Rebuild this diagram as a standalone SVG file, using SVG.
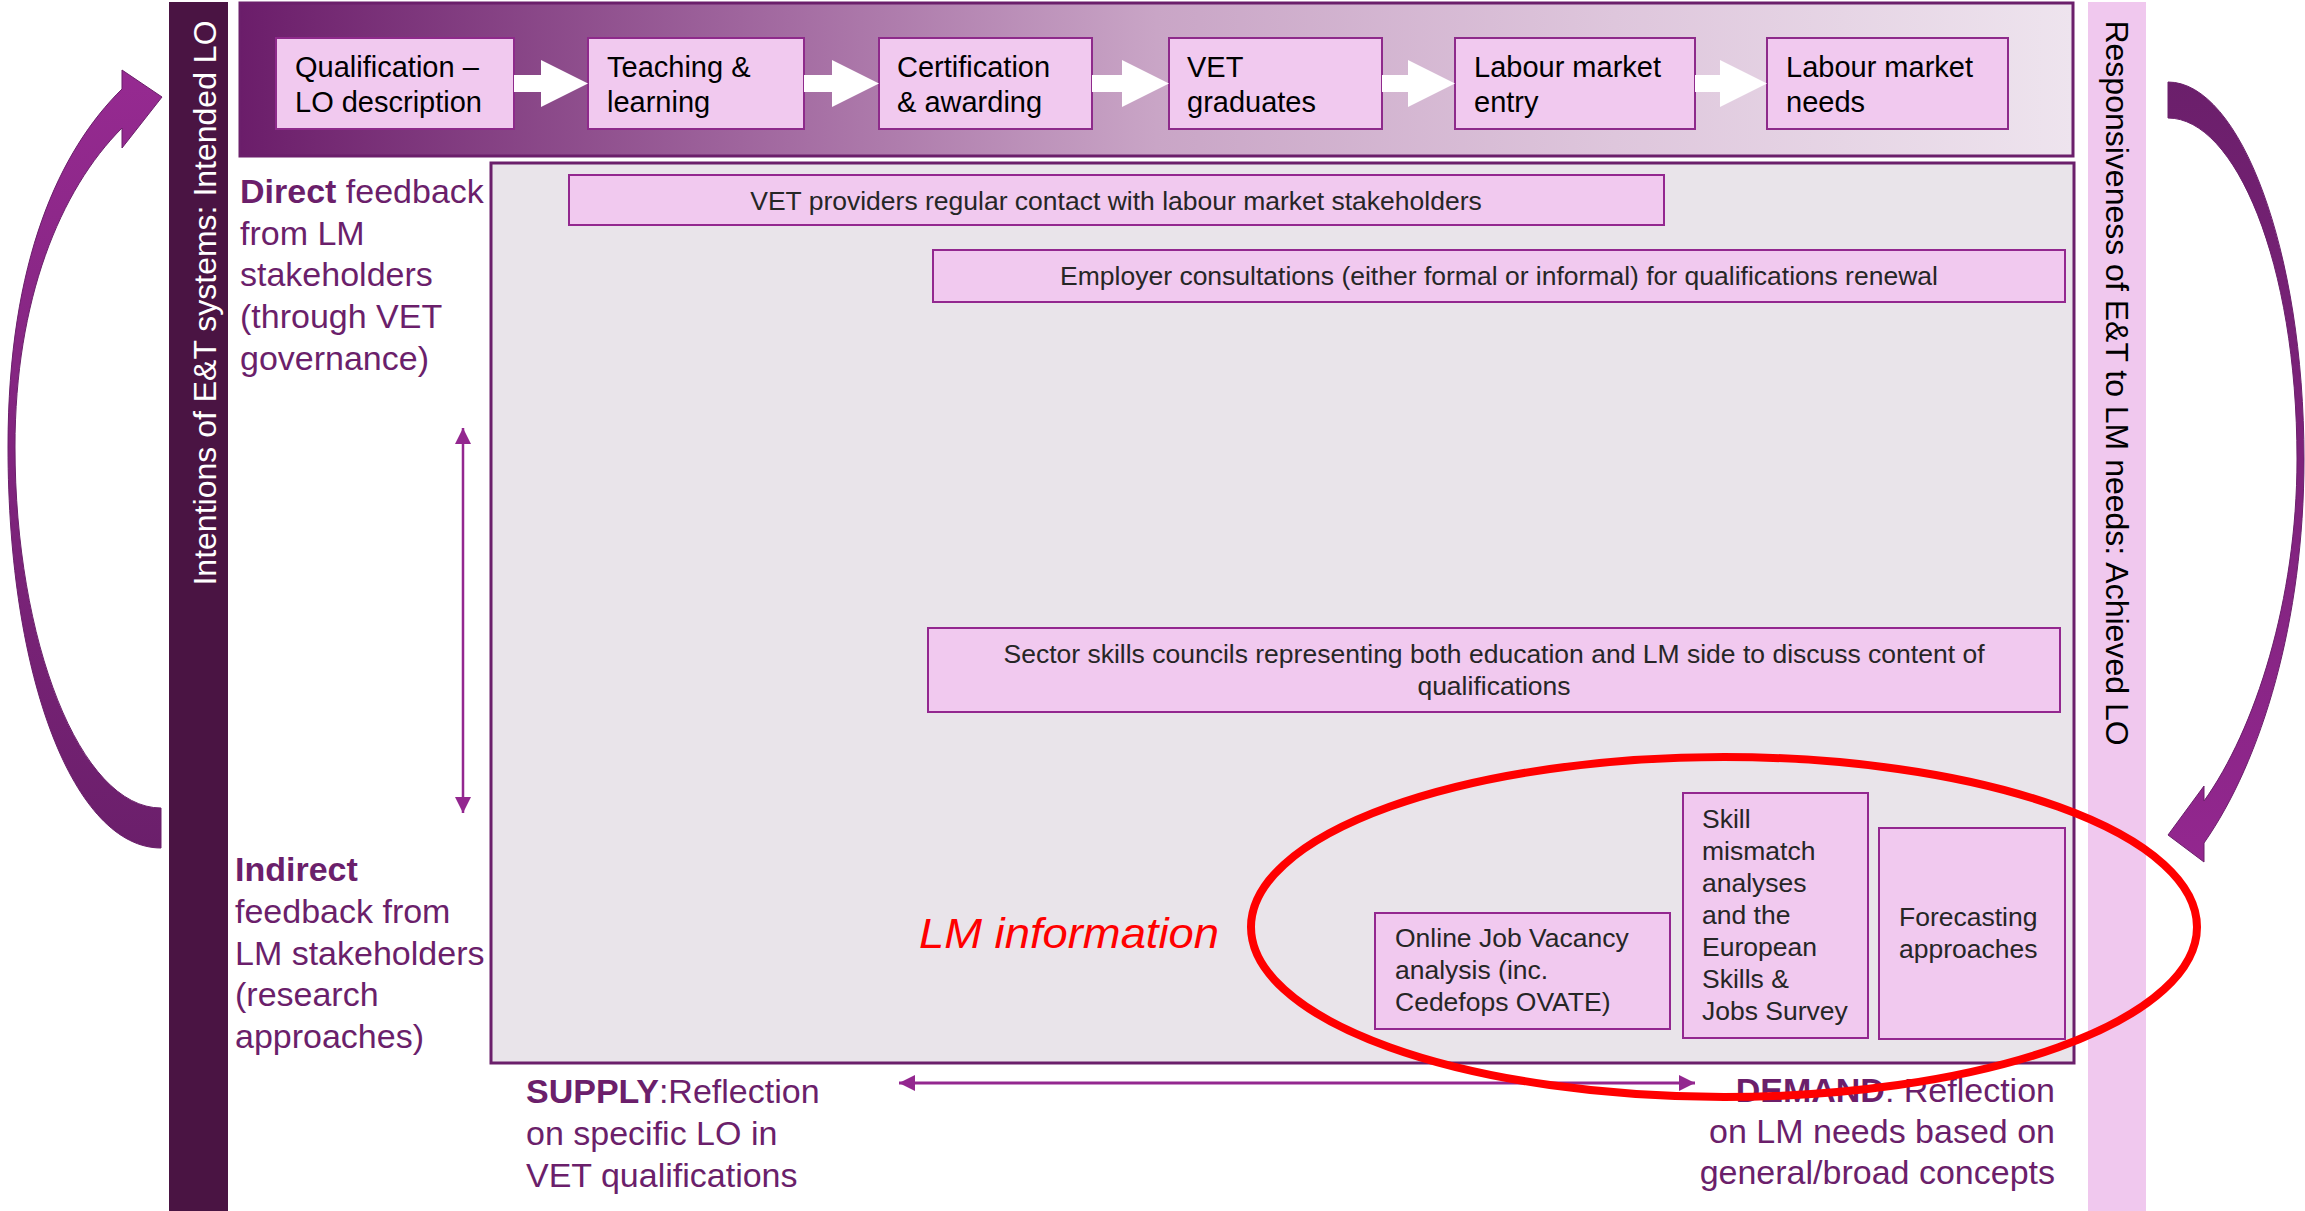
<svg xmlns="http://www.w3.org/2000/svg" width="2305" height="1211" viewBox="0 0 2305 1211">
  <defs>
    <style>
      text { font-family: "Liberation Sans", Arial, sans-serif; }
      .step { fill: #f1c9ef; stroke: #8e2a8b; stroke-width: 2; }
      .item { fill: #f1c9ef; stroke: #93278f; stroke-width: 2; }
      .stepTxt { font-size: 29px; fill: #000; }
      .itemTxt { font-size: 26.5px; fill: #262626; }
      .side { font-size: 34px; fill: #6b1f6b; }
      .b { font-weight: bold; }
      .blk { fill: #ffffff; }
      .dbl { stroke: #93278f; fill: none; }
    </style>
    <linearGradient id="bandGrad" x1="0" y1="0" x2="1" y2="0">
      <stop offset="0" stop-color="#6b1d6a"/>
      <stop offset="0.3" stop-color="#a46ca2"/>
      <stop offset="0.5" stop-color="#c9a5c6"/>
      <stop offset="0.75" stop-color="#dec6dc"/>
      <stop offset="1" stop-color="#eee4ee"/>
    </linearGradient>
    <linearGradient id="leftArc" x1="0" y1="0" x2="0" y2="1">
      <stop offset="0" stop-color="#962a91"/>
      <stop offset="1" stop-color="#6b1f6b"/>
    </linearGradient>
    <linearGradient id="rightArc" x1="0" y1="0" x2="0" y2="1">
      <stop offset="0" stop-color="#6b1f6b"/>
      <stop offset="1" stop-color="#93278f"/>
    </linearGradient>
    <marker id="tri" viewBox="0 0 10 10" refX="10" refY="5" markerWidth="16" markerHeight="16" markerUnits="userSpaceOnUse" orient="auto-start-reverse">
      <path d="M0,0 L10,5 L0,10 z" fill="#93278f"/>
    </marker>
  </defs>

  <rect width="2305" height="1211" fill="#ffffff"/>

  <!-- side bars -->
  <g id="intended-bar">
    <rect x="169" y="2" width="59" height="1209" fill="#4a1443"/>
    <text transform="translate(216,303) rotate(-90)" text-anchor="middle" font-size="32" fill="#ffffff">Intentions of E&amp;T systems: Intended LO</text>
  </g>
  <g id="achieved-bar">
    <rect x="2088" y="2" width="58" height="1209" fill="#f0c8ee"/>
    <text transform="translate(2106,383) rotate(90)" text-anchor="middle" font-size="32" fill="#000">Responsiveness of E&amp;T to LM needs: Achieved LO</text>
  </g>

  <!-- process band -->
  <g id="process-band">
    <rect x="240" y="3" width="1833" height="153" fill="url(#bandGrad)" stroke="#6b1f6b" stroke-width="3"/>
  </g>

  <g id="step-qualification">
    <rect class="step" x="276" y="38" width="238" height="91"/>
    <text class="stepTxt" x="295" y="77">Qualification –</text>
    <text class="stepTxt" x="295" y="112">LO description</text>
  </g>
  <g id="step-teaching">
    <rect class="step" x="588" y="38" width="216" height="91"/>
    <text class="stepTxt" x="607" y="77">Teaching &amp;</text>
    <text class="stepTxt" x="607" y="112">learning</text>
  </g>
  <g id="step-certification">
    <rect class="step" x="879" y="38" width="213" height="91"/>
    <text class="stepTxt" x="897" y="77">Certification</text>
    <text class="stepTxt" x="897" y="112">&amp; awarding</text>
  </g>
  <g id="step-graduates">
    <rect class="step" x="1169" y="38" width="213" height="91"/>
    <text class="stepTxt" x="1187" y="77">VET</text>
    <text class="stepTxt" x="1187" y="112">graduates</text>
  </g>
  <g id="step-entry">
    <rect class="step" x="1455" y="38" width="240" height="91"/>
    <text class="stepTxt" x="1474" y="77">Labour market</text>
    <text class="stepTxt" x="1474" y="112">entry</text>
  </g>
  <g id="step-needs">
    <rect class="step" x="1767" y="38" width="241" height="91"/>
    <text class="stepTxt" x="1786" y="77">Labour market</text>
    <text class="stepTxt" x="1786" y="112">needs</text>
  </g>

  <!-- feedback area -->
  <g id="feedback-area">
    <rect x="491" y="163" width="1583" height="900" fill="#e9e4ea" stroke="#6b1f6b" stroke-width="3"/>
  </g>

  <g id="vet-providers">
    <rect class="item" x="569" y="175" width="1095" height="50"/>
    <text class="itemTxt" x="1116" y="210" text-anchor="middle">VET providers regular contact with labour market stakeholders</text>
  </g>
  <g id="employer-consultations">
    <rect class="item" x="933" y="250" width="1132" height="52"/>
    <text class="itemTxt" x="1499" y="285" text-anchor="middle">Employer consultations (either formal or informal) for qualifications renewal</text>
  </g>
  <g id="sector-councils">
    <rect class="item" x="928" y="628" width="1132" height="84"/>
    <text class="itemTxt" x="1494" y="663" text-anchor="middle">Sector skills councils representing both education and LM side to discuss content of</text>
    <text class="itemTxt" x="1494" y="695" text-anchor="middle">qualifications</text>
  </g>
  <g id="online-vacancy">
    <rect class="item" x="1375" y="913" width="295" height="116"/>
    <text class="itemTxt" x="1395" y="947">Online Job Vacancy</text>
    <text class="itemTxt" x="1395" y="979">analysis (inc.</text>
    <text class="itemTxt" x="1395" y="1011">Cedefops OVATE)</text>
  </g>
  <g id="skill-mismatch">
    <rect class="item" x="1683" y="793" width="185" height="245"/>
    <text class="itemTxt" x="1702" y="828">Skill</text>
    <text class="itemTxt" x="1702" y="860">mismatch</text>
    <text class="itemTxt" x="1702" y="892">analyses</text>
    <text class="itemTxt" x="1702" y="924">and the</text>
    <text class="itemTxt" x="1702" y="956">European</text>
    <text class="itemTxt" x="1702" y="988">Skills &amp;</text>
    <text class="itemTxt" x="1702" y="1020">Jobs Survey</text>
  </g>
  <g id="forecasting">
    <rect class="item" x="1879" y="828" width="186" height="211"/>
    <text class="itemTxt" x="1899" y="926">Forecasting</text>
    <text class="itemTxt" x="1899" y="958">approaches</text>
  </g>

  <!-- side labels -->
  <g id="direct-label">
    <text class="side" x="240" y="203"><tspan class="b">Direct</tspan> feedback</text>
    <text class="side" x="240" y="245">from LM</text>
    <text class="side" x="240" y="286">stakeholders</text>
    <text class="side" x="240" y="328">(through VET</text>
    <text class="side" x="240" y="370">governance)</text>
  </g>
  <g id="indirect-label">
    <text class="side b" x="235" y="881">Indirect</text>
    <text class="side" x="235" y="923">feedback from</text>
    <text class="side" x="235" y="965">LM stakeholders</text>
    <text class="side" x="235" y="1006">(research</text>
    <text class="side" x="235" y="1048">approaches)</text>
  </g>
  <g id="supply-label">
    <text class="side" x="526" y="1103"><tspan class="b">SUPPLY</tspan>:Reflection</text>
    <text class="side" x="526" y="1145">on specific LO in</text>
    <text class="side" x="526" y="1187">VET qualifications</text>
  </g>
  <g id="demand-label">
    <text class="side" x="2055" y="1102" text-anchor="end"><tspan class="b">DEMAND</tspan>: Reflection</text>
    <text class="side" x="2055" y="1143" text-anchor="end">on LM needs based on</text>
    <text class="side" x="2055" y="1184" text-anchor="end">general/broad concepts</text>
  </g>

  <!-- connectors -->
  <g id="connectors">
    <!-- block arrows along the process band -->
    <path class="blk" d="M514,75 H541 V60 L588,83.5 L541,107 V92 H514 Z"/>
    <path class="blk" d="M804,75 H832 V60 L879,83.5 L832,107 V92 H804 Z"/>
    <path class="blk" d="M1092,75 H1122 V60 L1169,83.5 L1122,107 V92 H1092 Z"/>
    <path class="blk" d="M1382,75 H1408 V60 L1455,83.5 L1408,107 V92 H1382 Z"/>
    <path class="blk" d="M1695,75 H1720 V60 L1767,83.5 L1720,107 V92 H1695 Z"/>

    <!-- direct / indirect scale -->
    <line class="dbl" x1="463" y1="428" x2="463" y2="813" stroke-width="2.5" marker-start="url(#tri)" marker-end="url(#tri)"/>
    <!-- supply / demand scale -->
    <line class="dbl" x1="899" y1="1083" x2="1695" y2="1083" stroke-width="3" marker-start="url(#tri)" marker-end="url(#tri)"/>

    <!-- loop from intended LO -->
    <path d="M161,848 C75,848 8,680 8,447 C8,260 60,150 122,89 L122,70 L162,97 L122,148 L122,128 C60,190 15,300 15,447 C15,640 80,808 161,808 Z" fill="url(#leftArc)" stroke="#6b1f6b" stroke-width="1"/>
    <!-- loop to achieved LO -->
    <path d="M2168,82 C2240,82 2304,250 2304,459 C2304,620 2262,760 2204,843 L2204,862 L2168,835 L2204,786 L2204,801 C2255,730 2297,600 2297,459 C2297,262 2235,118 2168,118 Z" fill="url(#rightArc)" stroke="#6b1f6b" stroke-width="1"/>
  </g>

  <!-- LM information highlight -->
  <g id="lm-information">
    <text x="919" y="948" font-family="'Open Sans', sans-serif" font-style="italic" font-size="42" fill="#ff0000" textLength="300" lengthAdjust="spacingAndGlyphs">LM information</text>
    <ellipse cx="1724" cy="927" rx="473" ry="170" fill="none" stroke="#ff0000" stroke-width="8"/>
  </g>
</svg>
